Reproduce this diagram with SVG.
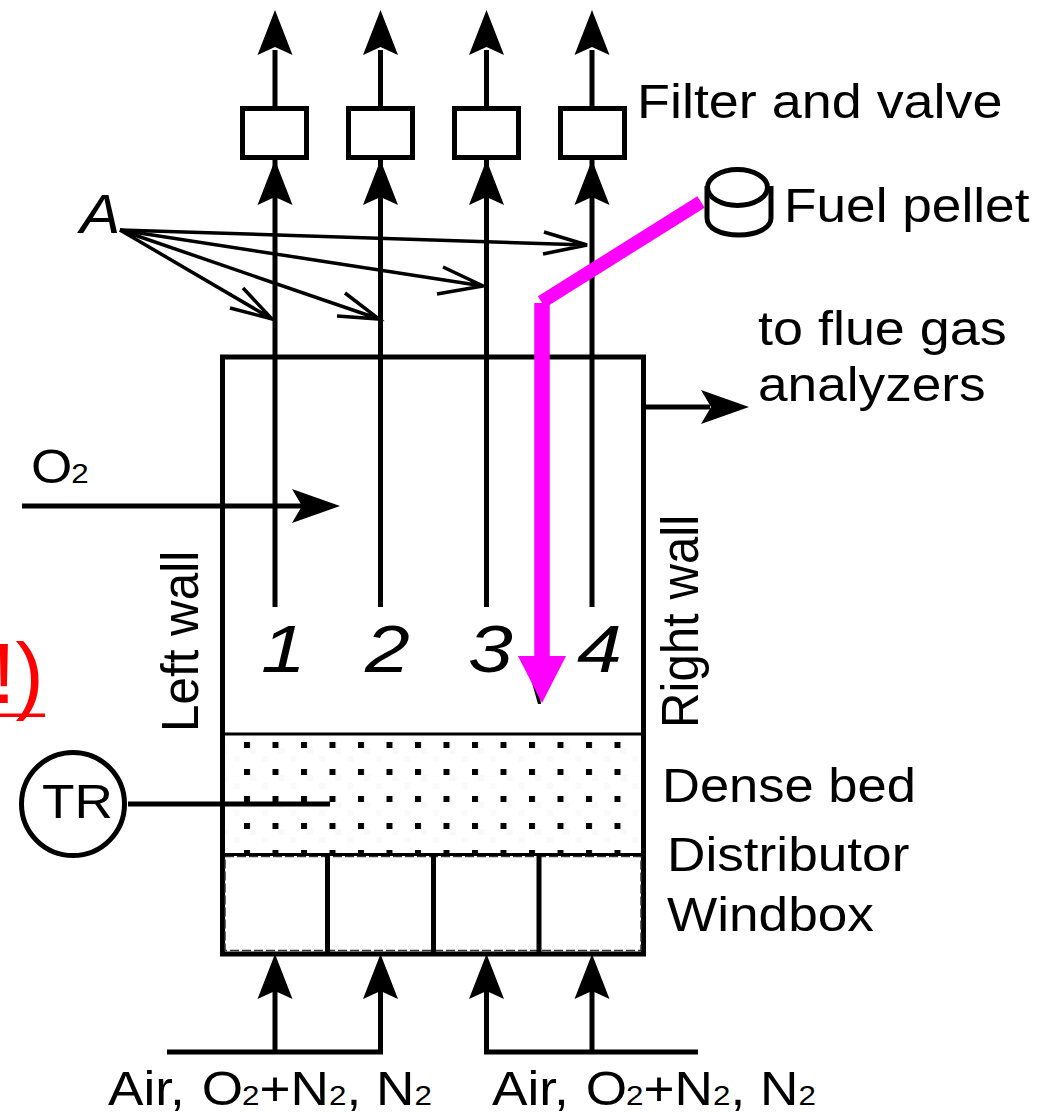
<svg xmlns="http://www.w3.org/2000/svg" width="1047" height="1112" viewBox="0 0 1047 1112">
<style>
.t{font-family:"Liberation Sans",Arial,sans-serif;font-size:47.500px;fill:#000}
.i{font-family:"Liberation Sans",Arial,sans-serif;font-size:66px;font-style:italic;fill:#000}
.s{font-size:28px}
.l{fill:none;stroke:#000;stroke-width:5}
.b{fill:#fff;stroke:#000;stroke-width:5}
.a{fill:none;stroke:#000;stroke-width:3.500}
.m{fill:none;stroke:#f0f}
</style>
<defs>
<path id="up" d="M0 0L17.500 45L0 37L-17.500 45Z" fill="#000"/>
<path id="rt" d="M0 0L-48 -17L-38 0L-48 17Z" fill="#000"/>
<pattern id="dots" x="244" y="742" width="28.500" height="27" patternUnits="userSpaceOnUse">
<rect width="28.500" height="27" fill="#fff"/>
<rect x="6" y="6" width="6" height="6" fill="#f9f9f9"/>
<rect x="18" y="14" width="6" height="6" fill="#fafafa"/>
<rect x="0" y="0" width="6" height="6" fill="#000"/>
</pattern>
</defs>

<g id="vessel">
<rect x="222" y="734" width="422" height="121" fill="url(#dots)"/>
<rect x="222.500" y="357" width="421" height="597" class="l"/>
<line x1="222" y1="734" x2="644" y2="734" stroke="#000" stroke-width="3"/>
<rect x="225" y="856.500" width="416" height="94" fill="#fff" stroke="#333" stroke-width="1.500" stroke-dasharray="9 3"/>
<line x1="222" y1="854.500" x2="644" y2="854.500" stroke="#000" stroke-width="3"/>
<path class="l" d="M327.500 855V954M433.500 855V954M539 855V954"/>
</g>

<g id="connectors">
<path class="l" d="M275 607V50M380.500 607V50M486.500 607V50M592 607V50"/>
<use href="#up" x="275" y="10"/><use href="#up" x="380.500" y="10"/><use href="#up" x="486.500" y="10"/><use href="#up" x="592" y="10"/>
<use href="#up" x="275" y="160"/><use href="#up" x="380.500" y="160"/><use href="#up" x="486.500" y="160"/><use href="#up" x="592" y="160"/>
<g class="a">
<path d="M120 230L272 319M230 308L272 319L243 288"/>
<path d="M120 230L379 319M337 316L379 319L345 293"/>
<path d="M120 230L483 286M437 294L483 286L443 267"/>
<path d="M120 230L587 245M544 232L587 245L543 254"/>
</g>
<path class="l" d="M644 407H710"/><use href="#rt" x="749" y="407"/>
<path class="l" d="M22 506H305"/><use href="#rt" x="340" y="506"/>
<path class="l" d="M128 804H330"/>
<path class="l" d="M167 1052H380.500V990M275 1052V990M486.500 990V1052H698M592 1052V990"/>
<use href="#up" x="275" y="954"/><use href="#up" x="380.500" y="954"/><use href="#up" x="486.500" y="954"/><use href="#up" x="592" y="954"/>
<path d="M527 665L538 704H541L535 660Z" fill="#000"/>
<path d="M701 202L541.500 302" class="m" stroke-width="13.500"/>
<path d="M542 303V660" class="m" stroke-width="15.500"/>
<path d="M518 656H566L542 703Z" fill="#f0f"/>
</g>

<g id="filter1"><rect x="242.500" y="108.500" width="64" height="49" class="b"/></g>
<g id="filter2"><rect x="348.500" y="108.500" width="64" height="49" class="b"/></g>
<g id="filter3"><rect x="454.500" y="108.500" width="64" height="49" class="b"/></g>
<g id="filter4"><rect x="560.500" y="108.500" width="64" height="49" class="b"/></g>

<g id="pellet"><path class="l" d="M707 186V218C707 228 720 235 739 235C757 235 771 228 771 218V186"/><ellipse cx="737.500" cy="187.500" rx="30" ry="18" class="l"/></g>

<g id="tr"><circle cx="73" cy="804" r="51.500" class="b"/>
<text class="t" transform="translate(42 817.500) scale(1.120 1)">TR</text></g>

<g id="labels">
<text class="t" transform="translate(637 118) scale(1.135 1)">Filter and valve</text>
<text class="t" transform="translate(784 222) scale(1.120 1)">Fuel pellet</text>
<text class="t" transform="translate(758 345) scale(1.135 1)">to flue gas</text>
<text class="t" transform="translate(758 401) scale(1.120 1)">analyzers</text>
<text class="t" transform="translate(31 483) scale(1.120 1)">O<tspan class="s" dx="-1">2</tspan></text>
<text class="t" transform="translate(197.500 732) rotate(-90) scale(1.040 1.080)">Left wall</text>
<text class="t" transform="translate(697.500 728) rotate(-90) scale(1.035 1.080)">Right wall</text>
<text class="t" transform="translate(662 802) scale(1.105 1)">Dense bed</text>
<text class="t" transform="translate(667 871) scale(1.120 1)">Distributor</text>
<text class="t" transform="translate(667 931) scale(1.120 1)">Windbox</text>
<text class="t" transform="translate(108 1105) scale(1.120 1)">Air,<tspan dx="2"> O</tspan><tspan class="s" dx="-1">2</tspan>+N<tspan class="s">2</tspan>, N<tspan class="s">2</tspan></text>
<text class="t" transform="translate(492 1105) scale(1.120 1)">Air,<tspan dx="2"> O</tspan><tspan class="s" dx="-1">2</tspan>+N<tspan class="s">2</tspan>, N<tspan class="s">2</tspan></text>
<text class="t" style="font-size:55px;font-style:italic" transform="translate(80 233) scale(1.100 1)">A</text>
<text class="i" transform="translate(261 672) scale(1.220 1)">1</text>
<text class="i" transform="translate(365 672) scale(1.220 1)">2</text>
<text class="i" transform="translate(468 672) scale(1.220 1)">3</text>
<text class="i" transform="translate(577 672) scale(1.220 1)">4</text>
<text x="-8" y="703" style="font-family:'Liberation Sans',Arial,sans-serif;font-size:85px;fill:#f00">!)</text>
<rect x="0" y="713.500" width="45" height="3.500" fill="#f00"/>
</g>
</svg>
